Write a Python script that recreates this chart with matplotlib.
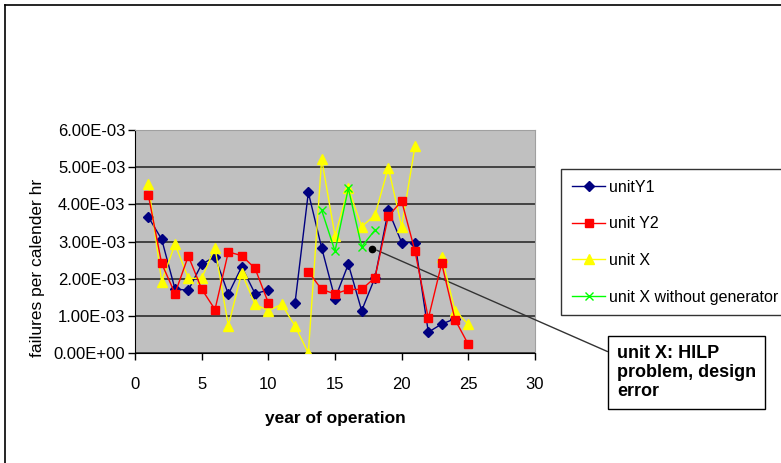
import numpy as np
import matplotlib
matplotlib.use("Agg")
import matplotlib.pyplot as plt
from matplotlib.lines import Line2D

plt.rcParams['font.family'] = ['Liberation Sans', 'DejaVu Sans']

nan = np.nan
years = list(range(1, 26))

# failures per calender hr, in units of 1e-3
unit_y1 = [3.66, 3.06, 1.72, 1.69, 2.39, 2.59, 1.58, 2.32, 1.60, 1.69, nan, 1.34, 4.32,
           2.83, 1.46, 2.39, 1.14, 2.03, 3.84, 2.97, 2.97, 0.56, 0.78, 0.92, nan]
unit_y2 = [4.25, 2.41, 1.60, 2.61, 1.72, 1.17, 2.72, 2.62, 2.28, 1.35, nan, nan, 2.19,
           1.71, 1.59, 1.71, 1.71, 2.03, 3.68, 4.09, 2.74, 0.93, 2.41, 0.90, 0.23]
unit_x = [4.54, 1.92, 2.93, 2.01, 2.01, 2.83, 0.73, 2.16, 1.31, 1.14, 1.31, 0.73, 0.00,
          5.22, 3.15, 4.43, 3.40, 3.71, 4.99, 3.40, 5.56, nan, 2.59, 1.14, 0.77]
unit_x_nogen = [nan] * 13 + [3.84, 2.74, 4.43, 2.86, 3.31] + [nan] * 7

note_x = 17.75
note_y = 2.81
note_text = "unit X: HILP\nproblem, design\nerror"

scale = 1e-3
def sc(v):
    return np.array(v, dtype=float) * scale

W, H = 781, 463
fig = plt.figure(figsize=(W / 100, H / 100), dpi=100)
ax = fig.add_axes([135 / W, 1 - 353 / H, 400 / W, 223 / H])
ax.set_facecolor('#C0C0C0')

ax.plot(years, sc(unit_y1), color='#000080', lw=1, marker='D', ms=5.5,
        mfc='#000080', mec='#000080', label='unitY1', zorder=3)
ax.plot(years, sc(unit_x), color='#FFFF00', lw=1, marker='^', ms=7,
        mfc='#FFFF00', mec='#FFFF00', label='unit X', zorder=3.1)
ax.plot(years, sc(unit_y2), color='#FF0000', lw=1, marker='s', ms=6,
        mfc='#FF0000', mec='#FF0000', label='unit Y2', zorder=3.2)
ax.plot(years, sc(unit_x_nogen), color='#00FF00', lw=1, marker='x', ms=6,
        mew=1, label='unit X without generator', zorder=3.3)

ax.plot([note_x], [note_y * scale], 'o', color='black', ms=4.5, zorder=4)

ax.set_xlim(0, 30)
ax.set_ylim(0, 6e-3)
ax.set_xticks(range(0, 31, 5))
yt = [i * 1e-3 for i in range(7)]
ax.set_yticks(yt)
ax.set_yticklabels(["%.2E" % v for v in yt])
ax.yaxis.grid(True, color='#383838', lw=1.3)
ax.set_axisbelow(True)
ax.tick_params(axis='x', direction='out', length=5, width=1, pad=12, labelsize=12)
ax.tick_params(axis='y', direction='out', length=5, width=1, pad=2, labelsize=12)
for s in ['top', 'right']:
    ax.spines[s].set_color('#A0A0A0')
for s in ['left', 'bottom']:
    ax.spines[s].set_color('black')

ax.set_xlabel('year of operation', fontsize=12.5, fontweight='bold', labelpad=14)
fig.text(38 / W, 1 - 268 / H, 'failures per calender hr', rotation=90,
         ha='center', va='center', fontsize=12.5)

handles, labels = ax.get_legend_handles_labels()
order = [0, 2, 1, 3]
leg = fig.legend([handles[i] for i in order], [labels[i] for i in order],
                 loc='upper left', bbox_to_anchor=(561 / W, 1 - 169 / H),
                 fontsize=11.5, frameon=True, fancybox=False, edgecolor='black',
                 borderpad=0.68, labelspacing=1.35, handlelength=2.1,
                 handletextpad=0.25, borderaxespad=0)
leg.get_frame().set_linewidth(1)

ax.annotate(note_text, xy=(note_x + 0.1, note_y * scale), xycoords='data',
            xytext=(617 / W, 1 - 372.5 / H), textcoords='figure fraction',
            ha='left', va='center', fontsize=13, fontweight='bold', linespacing=1.12,
            bbox=dict(boxstyle='square,pad=0.5', fc='white', ec='black', lw=1),
            arrowprops=dict(arrowstyle='-', color='#333333', lw=1,
                            relpos=(0, 0.81), shrinkA=0, shrinkB=3),
            annotation_clip=False)

fig.add_artist(Line2D([5 / W, 5 / W], [0, 1 - 5 / H], color='black', lw=1.2,
                      transform=fig.transFigure))
fig.add_artist(Line2D([5 / W, 1], [1 - 5 / H, 1 - 5 / H], color='black', lw=1.2,
                      transform=fig.transFigure))

fig.savefig('out.png', dpi=100)
